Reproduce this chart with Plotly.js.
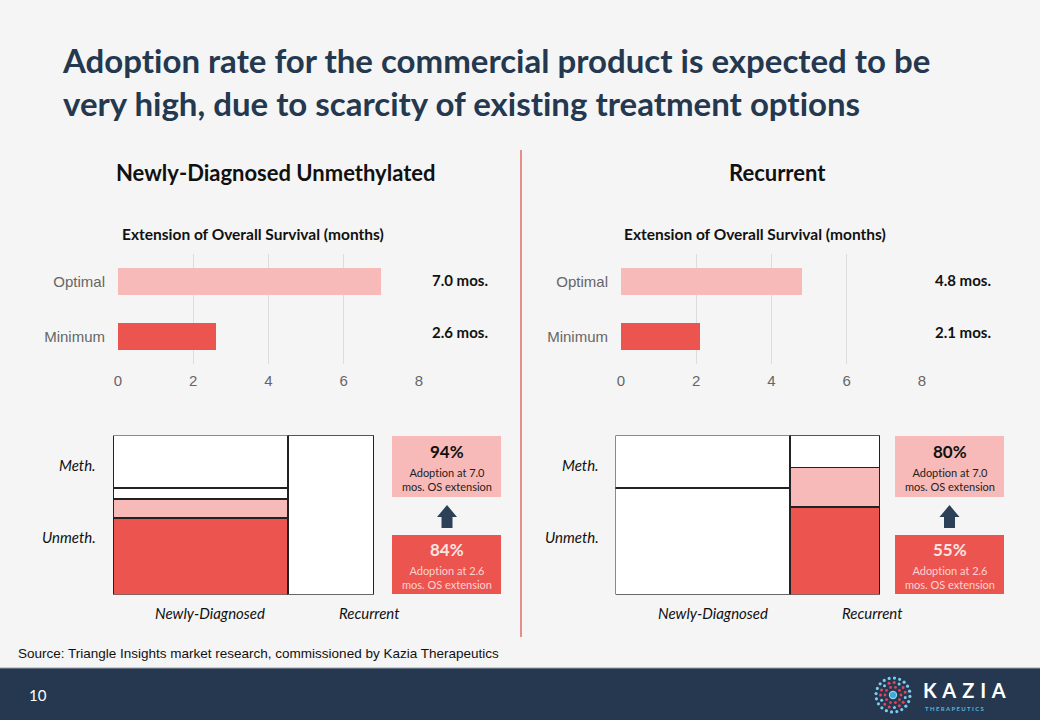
<!DOCTYPE html>
<html>
<head>
<meta charset="utf-8">
<script src="https://cdn.plot.ly/plotly-3.0.1.min.js"></script>
<style>
  html, body { margin:0; padding:0; background:#f5f5f5; }
  #chart { width:1040px; height:720px; }
  text { font-variant-ligatures: none; font-feature-settings: "liga" 0, "clig" 0; }
</style>
</head>
<body>
<div id="chart"></div>
<script>
// ---------- DATA ----------
const barCategories = ["Optimal", "Minimum"];
const newlyDiagnosedOS = [7.0, 2.6];   // months of OS extension
const recurrentOS = [4.8, 2.1];
const barTicks = [0, 2, 4, 6, 8];

const mosaicColumns = ["Newly-Diagnosed", "Recurrent"];
const leftColumnWidths = [67, 33];     // share of patients (%)
const rightColumnWidths = [66, 34];
// stacked segment heights (% of column), bottom to top
const leftMinimum   = [48, 0];
const leftOptimal   = [12, 0];
const leftNoAdopt   = [7, 100];
const leftMeth      = [33, 0];
const rightMinimum  = [0, 55];
const rightOptimal  = [0, 25];
const rightNoAdopt  = [67, 20];
const rightMeth     = [33, 0];

const leftAdoption  = [94, 84];   // optimal, minimum
const rightAdoption = [80, 55];
const calloutOS = [7.0, 2.6];

// ---------- STYLE ----------
const W = 1040, H = 720;
const px = x => x / W;
const py = y => 1 - y / H;
const PINK = '#F8BAB8', RED = '#EC554F', NAVY = '#253850';
const SLIDE_FONT = 'Lato, "Noto Sans", sans-serif';
const AXIS_FONT = '"Liberation Sans", Arial, sans-serif';

function centers(widths) {
  const c = []; let acc = 0;
  widths.forEach(w => { c.push(acc + w / 2); acc += w; });
  return c;
}

const traces = [];
// horizontal bar charts
traces.push({
  type: 'bar', orientation: 'h', y: barCategories, x: newlyDiagnosedOS,
  marker: { color: [PINK, RED] }, width: 0.49, xaxis: 'x', yaxis: 'y',
  hoverinfo: 'skip', showlegend: false
});
traces.push({
  type: 'bar', orientation: 'h', y: barCategories, x: recurrentOS,
  marker: { color: [PINK, RED] }, width: 0.49, xaxis: 'x2', yaxis: 'y2',
  hoverinfo: 'skip', showlegend: false
});

// mosaic charts
function mosaic(widths, segs, xa, ya) {
  const cx = centers(widths);
  const colors = [RED, PINK, '#ffffff', '#ffffff'];
  segs.forEach((vals, i) => {
    traces.push({
      type: 'bar', x: cx, y: vals, width: widths,
      marker: { color: colors[i], line: { color: '#222', width: 1.6 } },
      xaxis: xa, yaxis: ya, hoverinfo: 'skip', showlegend: false
    });
  });
}
mosaic(leftColumnWidths, [leftMinimum, leftOptimal, leftNoAdopt, leftMeth], 'x3', 'y3');
mosaic(rightColumnWidths, [rightMinimum, rightOptimal, rightNoAdopt, rightMeth], 'x4', 'y4');

// ---------- AXES ----------
const tickFont = { family: AXIS_FONT, size: 15, color: '#666' };
function barX(d0, d1, anchor) {
  return {
    domain: [d0, d1], range: [0, 8], tickvals: barTicks, showgrid: true,
    gridcolor: '#dcdcdc', gridwidth: 1, zeroline: false, showline: false,
    ticks: '', tickfont: tickFont, ticklabelstandoff: 6, anchor: anchor, fixedrange: true
  };
}
function barY(anchor) {
  return {
    domain: [py(364), py(254)], type: 'category', autorange: 'reversed',
    showgrid: false, zeroline: false, showline: false, ticks: '',
    tickfont: tickFont, ticklabelstandoff: 12, anchor: anchor, fixedrange: true
  };
}
function hidden(d0, d1, anchor) {
  return { domain: [d0, d1], range: [0, 100], visible: false, anchor: anchor, fixedrange: true };
}

// ---------- SHAPES ----------
const shapes = [];
// divider
shapes.push({ type: 'line', xref: 'paper', yref: 'paper', x0: px(521), x1: px(521),
  y0: py(150), y1: py(637), line: { color: '#E06B66', width: 1.5 } });
// footer band
shapes.push({ type: 'rect', xref: 'paper', yref: 'paper', x0: 0, x1: 1, y0: 0, y1: py(668),
  fillcolor: NAVY, line: { width: 0 } });
shapes.push({ type: 'line', xref: 'paper', yref: 'paper', x0: 0, x1: 1, y0: py(668), y1: py(668),
  line: { color: '#9aa2ad', width: 1 } });

function rect(x0, y0, x1, y1, color) {
  shapes.push({ type: 'rect', xref: 'paper', yref: 'paper', x0: px(x0), x1: px(x1),
    y0: py(y1), y1: py(y0), fillcolor: color, line: { width: 0 } });
}
function arrow(cx) {
  const pts = [[cx, 505], [cx + 10, 517], [cx + 5.5, 517], [cx + 5.5, 528],
               [cx - 5.5, 528], [cx - 5.5, 517], [cx - 10, 517]];
  const d = pts.map((p, i) => (i ? 'L' : 'M') + px(p[0]) + ',' + py(p[1])).join(' ') + ' Z';
  shapes.push({ type: 'path', xref: 'paper', yref: 'paper', path: d, fillcolor: '#2C4157',
    line: { width: 0 } });
}
rect(392, 436, 501, 497, PINK); rect(392, 535, 501, 594, RED); arrow(447);
rect(895, 436, 1004, 497, PINK); rect(895, 535, 1004, 594, RED); arrow(949.5);

// logo
function dot(cx, cy, r, color) {
  shapes.push({ type: 'circle', xref: 'paper', yref: 'paper', x0: px(cx - r), x1: px(cx + r),
    y0: py(cy + r), y1: py(cy - r), fillcolor: color, line: { width: 0 } });
}
const LX = 893, LY = 695;
dot(LX, LY, 4.2, '#8fd3f0'); dot(LX, LY, 3, '#3fa9dc');
[[8, 10, '#E0475A', 1.4], [12.5, 15, '#E0475A', 1.5], [17, 20, '#7CCCF0', 1.6]].forEach(([r, n, c, s], k) => {
  for (let i = 0; i < n; i++) {
    const a = (i / n) * 2 * Math.PI + k * 0.2;
    const col = (k === 1 && i % 3 === 0) ? '#7CCCF0' : c;
    dot(LX + r * Math.cos(a), LY + r * Math.sin(a), s, col);
  }
});

// ---------- ANNOTATIONS ----------
const annotations = [];
function ann(text, x, y, o = {}) {
  annotations.push(Object.assign({
    text: text, xref: 'paper', yref: 'paper', x: px(x), y: py(y), showarrow: false,
    xanchor: 'center', yanchor: 'middle',
    font: { family: SLIDE_FONT, size: 14, color: '#111' }
  }, o));
}
ann('Adoption rate for the commercial product is expected to be<br>very high, due to scarcity of existing treatment options',
  60, 81, { xanchor: 'left', align: 'left', font: { family: SLIDE_FONT, size: 33, color: '#24384F', weight: 'bold' } });
ann('<b>Newly-Diagnosed Unmethylated</b>', 275, 172, { font: { family: SLIDE_FONT, size: 22, color: '#111' } });
ann('<b>Recurrent</b>', 777, 172, { font: { family: SLIDE_FONT, size: 22, color: '#111' } });
ann('<b>Extension of Overall Survival (months)</b>', 253, 234, { font: { family: SLIDE_FONT, size: 15.5, color: '#111' } });
ann('<b>Extension of Overall Survival (months)</b>', 755, 234, { font: { family: SLIDE_FONT, size: 15.5, color: '#111' } });

// bar value labels
const valueY = [280, 332];
newlyDiagnosedOS.forEach((v, i) => ann('<b>' + v.toFixed(1) + ' mos.</b>', 460, valueY[i], { font: { family: SLIDE_FONT, size: 15, color: '#111' } }));
recurrentOS.forEach((v, i) => ann('<b>' + v.toFixed(1) + ' mos.</b>', 963, valueY[i], { font: { family: SLIDE_FONT, size: 15, color: '#111' } }));

// mosaic labels
const italic = { family: SLIDE_FONT, size: 15, color: '#111', style: 'italic' };
[[98, 210, 369], [601, 713, 872]].forEach(([yl, c1, c2]) => {
  ann('Meth.', yl, 465, { xanchor: 'right', font: italic });
  ann('Unmeth.', yl, 537, { xanchor: 'right', font: italic });
  ann(mosaicColumns[0], c1, 613, { font: italic });
  ann(mosaicColumns[1], c2, 613, { font: italic });
});

// callouts
function callout(cx, adopt) {
  ann('<b>' + adopt[0] + '%</b>', cx, 451, { font: { family: SLIDE_FONT, size: 17, color: '#111' } });
  ann('Adoption at ' + calloutOS[0].toFixed(1) + '<br>mos. OS extension', cx, 479.5,
    { font: { family: SLIDE_FONT, size: 11, color: '#222' } });
  ann('<b>' + adopt[1] + '%</b>', cx, 549, { font: { family: SLIDE_FONT, size: 17, color: '#fbe4e3' } });
  ann('Adoption at ' + calloutOS[1].toFixed(1) + '<br>mos. OS extension', cx, 577.5,
    { font: { family: SLIDE_FONT, size: 11, color: '#fbd3d1' } });
}
callout(446.5, leftAdoption);
callout(949.5, rightAdoption);

// source & footer
ann('Source: Triangle Insights market research, commissioned by Kazia Therapeutics', 16, 653,
  { xanchor: 'left', font: { family: '"Liberation Sans", sans-serif', size: 13.5, color: '#111' } });
ann('10', 27, 695, { xanchor: 'left', font: { family: SLIDE_FONT, size: 15, color: '#fff' } });
ann('<b>K\u200A A\u200A Z\u200A I\u200A A</b>', 921, 689.5, { xanchor: 'left', font: { family: SLIDE_FONT, size: 20, color: '#fff' } });
ann('<b>T H E R A P E U T I C S</b>', 923, 708, { xanchor: 'left', font: { family: SLIDE_FONT, size: 6, color: '#5ab4dc' } });

const layout = {
  width: W, height: H, margin: { l: 0, r: 0, t: 0, b: 0 },
  paper_bgcolor: '#f5f5f5', plot_bgcolor: 'rgba(0,0,0,0)',
  barmode: 'stack', showlegend: false,
  xaxis: barX(px(118), px(419), 'y'), yaxis: barY('x'),
  xaxis2: barX(px(621), px(922), 'y2'), yaxis2: barY('x2'),
  xaxis3: hidden(px(113), px(374), 'y3'), yaxis3: hidden(py(594.5), py(435.5), 'x3'),
  xaxis4: hidden(px(615.5), px(880), 'y4'), yaxis4: hidden(py(594.5), py(435.5), 'x4'),
  shapes: shapes, annotations: annotations
};

Plotly.newPlot('chart', traces, layout, { displayModeBar: false, staticPlot: true });
</script>
</body>
</html>
